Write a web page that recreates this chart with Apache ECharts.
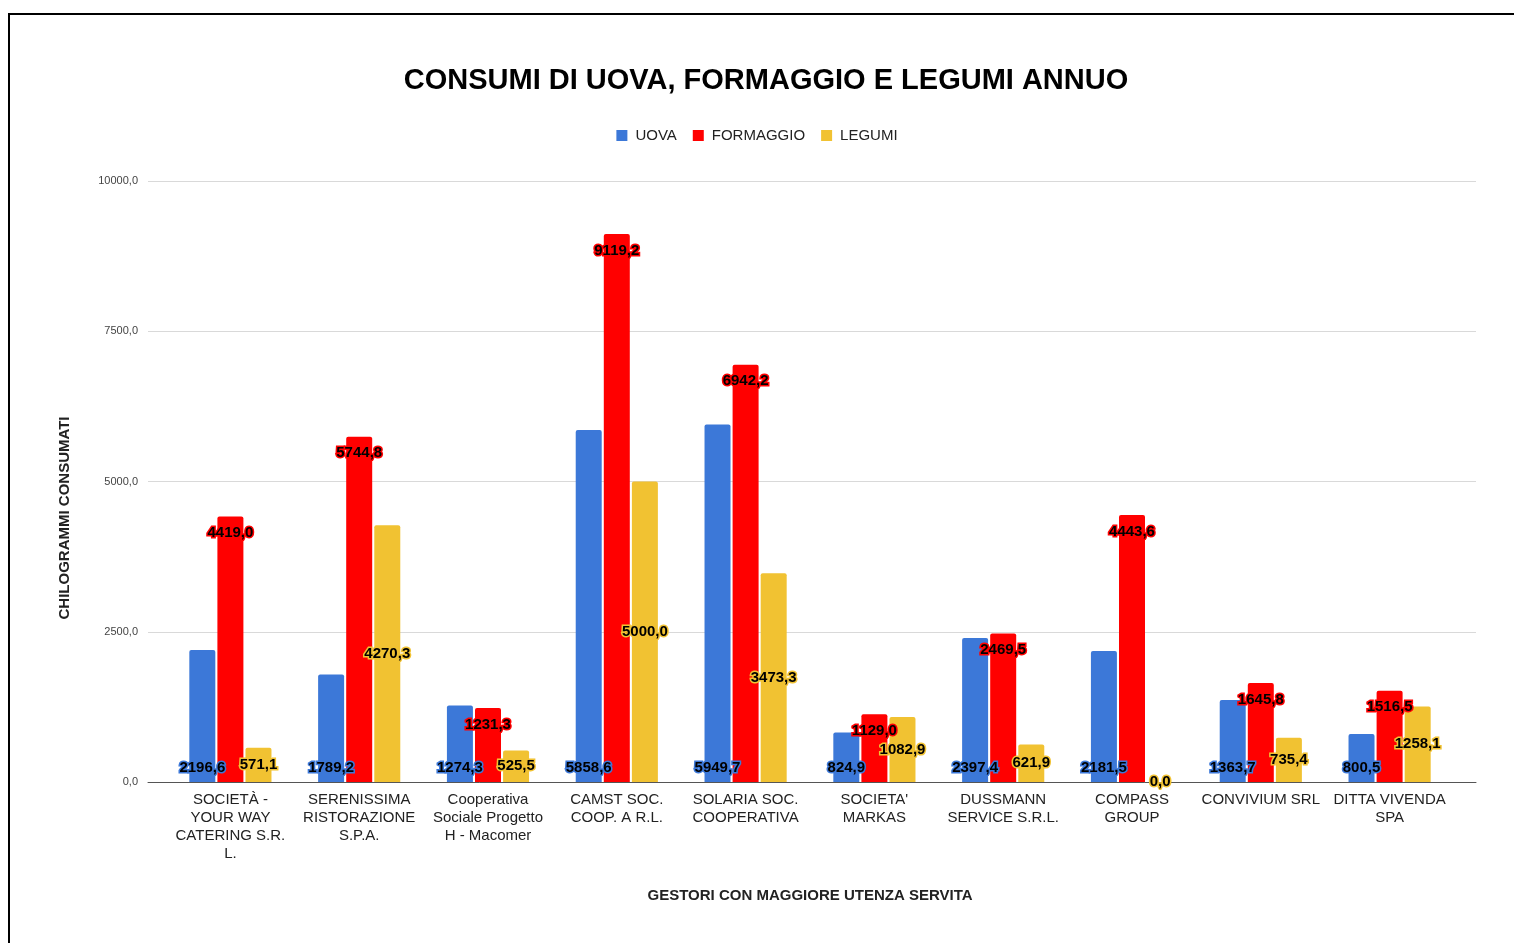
<!DOCTYPE html>
<html>
<head>
    <meta charset="utf-8">
    <title>Consumi di uova, formaggio e legumi annuo</title>
    <script src="https://cdn.jsdelivr.net/npm/echarts@6/dist/echarts.min.js"></script>
    <style>
        html, body { margin: 0; padding: 0; background: #fff; }
    </style>
</head>
<body>
<div id="main" style="width: 1514px;height:943px;"></div>
<script type="text/javascript">
    // dati
    var gestori = [
        'SOCIETÀ -\nYOUR WAY\nCATERING S.R.\nL.',
        'SERENISSIMA\nRISTORAZIONE\nS.P.A.',
        'Cooperativa\nSociale Progetto\nH - Macomer',
        'CAMST SOC.\nCOOP. A R.L.',
        'SOLARIA SOC.\nCOOPERATIVA',
        "SOCIETA'\nMARKAS",
        'DUSSMANN\nSERVICE S.R.L.',
        'COMPASS\nGROUP',
        'CONVIVIUM SRL',
        'DITTA VIVENDA\nSPA'
    ];
    var uova = [2196.6, 1789.2, 1274.3, 5858.6, 5949.7, 824.9, 2397.4, 2181.5, 1363.7, 800.5];
    var formaggio = [4419.0, 5744.8, 1231.3, 9119.2, 6942.2, 1129.0, 2469.5, 4443.6, 1645.8, 1516.5];
    var legumi = [571.1, 4270.3, 525.5, 5000.0, 3473.3, 1082.9, 621.9, 0.0, 735.4, 1258.1];

    var FONT = '"Liberation Sans", Arial, sans-serif';

    function fmt(v) {
        return Number(v).toFixed(1).replace('.', ',');
    }

    function serie(nome, dati, colore, pos, dist) {
        return {
            name: nome,
            type: 'bar',
            xAxisIndex: 1,
            yAxisIndex: 1,
            data: dati,
            barWidth: 26,
            barGap: '8%',
            itemStyle: { color: colore, borderRadius: [2, 2, 0, 0] },
            label: {
                show: true,
                position: pos,
                distance: dist,
                color: '#000',
                fontSize: 15,
                fontWeight: 'bold',
                fontFamily: FONT,
                textBorderColor: colore,
                textBorderWidth: 3,
                formatter: function (p) { return fmt(p.value); }
            }
        };
    }

    var myChart = echarts.init(document.getElementById('main'));
    myChart.setOption({
        backgroundColor: '#fff',
        animation: false,
        textStyle: { fontFamily: FONT },
        graphic: [{
            type: 'rect',
            shape: { x: 9, y: 14, width: 1520, height: 1000 },
            style: { fill: 'none', stroke: '#000', lineWidth: 2 }
        }, {
            // titolo asse verticale
            type: 'text',
            x: 65,
            y: 518,
            rotation: Math.PI / 2,
            style: {
                text: 'CHILOGRAMMI CONSUMATI',
                fill: '#222',
                font: 'bold 15px ' + FONT,
                align: 'center',
                verticalAlign: 'middle'
            }
        }],
        title: {
            text: 'CONSUMI DI UOVA, FORMAGGIO E LEGUMI ANNUO',
            left: 761,
            top: 61,
            textAlign: 'center',
            textStyle: { fontSize: 29, fontWeight: 'bold', color: '#000', fontFamily: FONT }
        },
        legend: {
            top: 123,
            left: 'center',
            itemWidth: 11,
            itemHeight: 11,
            itemGap: 16,
            icon: 'rect',
            textStyle: { fontSize: 15, color: '#222', fontFamily: FONT, padding: [0, 0, 0, 3] },
            data: ['UOVA', 'FORMAGGIO', 'LEGUMI']
        },
        grid: [
            { left: 148, right: 38, top: 181, bottom: 161 },
            { left: 166, right: 60, top: 181, bottom: 161 }
        ],
        xAxis: [{
            gridIndex: 0,
            type: 'value',
            min: 0,
            max: 1,
            axisLabel: { show: false },
            axisTick: { show: false },
            splitLine: { show: false },
            axisLine: { show: true, lineStyle: { color: '#555', width: 1 } }
        }, {
            gridIndex: 1,
            type: 'category',
            data: gestori,
            name: 'GESTORI CON MAGGIORE UTENZA SERVITA',
            nameLocation: 'middle',
            nameGap: 106,
            nameTextStyle: { fontSize: 15, fontWeight: 'bold', color: '#222', fontFamily: FONT },
            axisTick: { show: false },
            axisLine: { show: false },
            axisLabel: { fontSize: 15, color: '#222', margin: 9, lineHeight: 18, interval: 0, fontFamily: FONT }
        }],
        yAxis: [{
            gridIndex: 0,
            type: 'value',
            min: 0,
            max: 10000,
            interval: 2500,
            axisLine: { show: false },
            axisTick: { show: false },
            axisLabel: { fontSize: 11, color: '#444', margin: 10, formatter: fmt, fontFamily: FONT },
            splitLine: { lineStyle: { color: '#d9d9d9' } }
        }, {
            gridIndex: 1,
            type: 'value',
            min: 0,
            max: 10000,
            interval: 2500,
            axisLine: { show: false },
            axisTick: { show: false },
            axisLabel: { show: false },
            splitLine: { show: false }
        }],
        series: [
            serie('UOVA', uova, '#3c78d8', 'insideBottom', 7),
            serie('FORMAGGIO', formaggio, '#ff0000', 'insideTop', 9),
            serie('LEGUMI', legumi, '#f1c232', 'inside', 5)
        ]
    });
</script>
</body>
</html>
